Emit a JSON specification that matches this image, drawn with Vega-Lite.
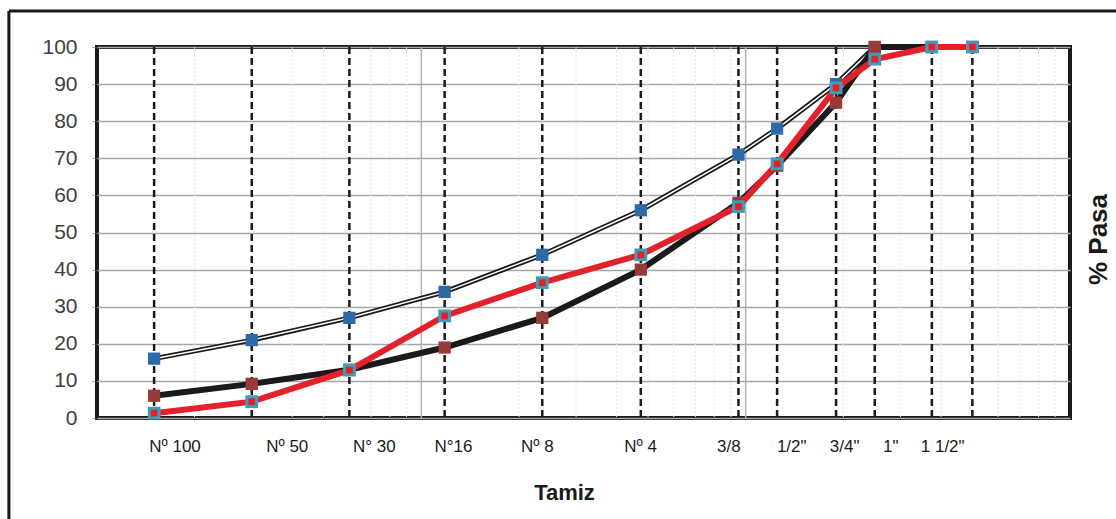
{
  "$schema": "https://vega.github.io/schema/vega-lite/v6.json",
  "width": 973,
  "height": 371,
  "autosize": {"type": "none"},
  "padding": {"left": 97, "top": 47, "right": 46, "bottom": 101},
  "background": "white",
  "config": {
    "view": {"stroke": "#1a1a1a", "strokeWidth": 4},
    "font": "Liberation Sans",
    "axisY": {
      "grid": true, "gridColor": "#a6a6a6", "gridWidth": 1.5,
      "domain": false, "tickSize": 6, "tickColor": "#666666", "tickDash": [1, 1],
      "labelFontSize": 21, "labelColor": "#404040", "labelPadding": 14,
      "titleFontSize": 26, "titleFontWeight": "bold", "titleColor": "#1a1a1a",
      "titleAngle": -90, "titleX": 1001, "titleY": 192, "titleAlign": "center", "titleBaseline": "middle"
    }
  },
  "datasets": {
    "sieves": [
      {"mm": 0.15, "upper": 16, "lower": 6, "sample": 1.3},
      {"mm": 0.3, "upper": 21, "lower": 9.2, "sample": 4.4},
      {"mm": 0.6, "upper": 27, "lower": 13, "sample": 12.9},
      {"mm": 1.18, "upper": 34, "lower": 19, "sample": 27.5},
      {"mm": 2.36, "upper": 44, "lower": 27, "sample": 36.5},
      {"mm": 4.75, "upper": 56, "lower": 40, "sample": 44},
      {"mm": 9.5, "upper": 71, "lower": 58, "sample": 57},
      {"mm": 12.5, "upper": 78, "lower": 68, "sample": 68.5},
      {"mm": 19, "upper": 90, "lower": 85, "sample": 89},
      {"mm": 25, "upper": 100, "lower": 100, "sample": 96.7},
      {"mm": 37.5, "upper": 100, "lower": 100, "sample": 100},
      {"mm": 50, "upper": 100, "lower": 100, "sample": 100}
    ],
    "minor": [
      {"g": 0.2}, {"g": 0.3}, {"g": 0.4}, {"g": 0.5}, {"g": 0.6}, {"g": 0.7}, {"g": 0.8}, {"g": 0.9},
      {"g": 2}, {"g": 3}, {"g": 4}, {"g": 5}, {"g": 6}, {"g": 7}, {"g": 8}, {"g": 9},
      {"g": 20}, {"g": 30}, {"g": 40}, {"g": 50}, {"g": 60}, {"g": 70}, {"g": 80}, {"g": 90}
    ],
    "major": [{"g": 1}, {"g": 10}],
    "labels": [
      {"pos": 0.174, "t": "Nº 100"},
      {"pos": 0.386, "t": "Nº 50"},
      {"pos": 0.716, "t": "N° 30"},
      {"pos": 1.256, "t": "N°16"},
      {"pos": 2.28, "t": "Nº 8"},
      {"pos": 4.74, "t": "Nº 4"},
      {"pos": 8.87, "t": "3/8"},
      {"pos": 13.87, "t": "1/2\""},
      {"pos": 20.2, "t": "3/4\""},
      {"pos": 28.0, "t": "1\""},
      {"pos": 40.5, "t": "1 1/2\""}
    ]
  },
  "layer": [
    {
      "data": {"name": "minor"},
      "mark": {"type": "rule", "color": "#e1e8f3", "strokeWidth": 1, "strokeDash": [2, 2]},
      "encoding": {
        "x": {"field": "g", "type": "quantitative",
          "scale": {"type": "log", "domain": [0.1, 100], "nice": false},
          "axis": {"labels": false, "ticks": false, "domain": false, "grid": false,
            "title": "Tamiz", "titleFontSize": 22, "titleFontWeight": "bold", "titleColor": "#1a1a1a",
            "titleX": 467, "titleY": 74, "titleBaseline": "middle", "titleAnchor": "middle"}
        }
      }
    },
    {
      "data": {"name": "major"},
      "mark": {"type": "rule", "color": "#b0b0b0", "strokeWidth": 1.5},
      "encoding": {"x": {"field": "g", "type": "quantitative"}}
    },
    {
      "data": {"name": "sieves"},
      "mark": {"type": "rule", "color": "#1a1a1a", "strokeWidth": 2.5, "strokeDash": [7, 4]},
      "encoding": {"x": {"field": "mm", "type": "quantitative"}}
    },
    {
      "data": {"name": "sieves"},
      "mark": {"type": "line", "color": "#1a1a1a", "strokeWidth": 5},
      "encoding": {
        "x": {"field": "mm", "type": "quantitative"},
        "y": {"field": "upper", "type": "quantitative",
          "scale": {"domain": [0, 100], "nice": false},
          "axis": {"values": [0, 10, 20, 30, 40, 50, 60, 70, 80, 90, 100], "title": "% Pasa"}
        }
      }
    },
    {
      "data": {"name": "sieves"},
      "mark": {"type": "line", "color": "white", "strokeWidth": 1.5},
      "encoding": {
        "x": {"field": "mm", "type": "quantitative"},
        "y": {"field": "upper", "type": "quantitative", "axis": {"values": [0, 10, 20, 30, 40, 50, 60, 70, 80, 90, 100], "title": "% Pasa"}}
      }
    },
    {
      "data": {"name": "sieves"},
      "mark": {"type": "line", "color": "#1a1a1a", "strokeWidth": 6},
      "encoding": {
        "x": {"field": "mm", "type": "quantitative"},
        "y": {"field": "lower", "type": "quantitative", "axis": {"values": [0, 10, 20, 30, 40, 50, 60, 70, 80, 90, 100], "title": "% Pasa"}}
      }
    },
    {
      "data": {"name": "sieves"},
      "mark": {"type": "square", "color": "#2e69a8", "opacity": 1, "size": 150, "filled": true},
      "encoding": {
        "x": {"field": "mm", "type": "quantitative"},
        "y": {"field": "upper", "type": "quantitative", "axis": {"values": [0, 10, 20, 30, 40, 50, 60, 70, 80, 90, 100], "title": "% Pasa"}}
      }
    },
    {
      "data": {"name": "sieves"},
      "mark": {"type": "square", "color": "#983a38", "opacity": 1, "size": 150, "filled": true},
      "encoding": {
        "x": {"field": "mm", "type": "quantitative"},
        "y": {"field": "lower", "type": "quantitative", "axis": {"values": [0, 10, 20, 30, 40, 50, 60, 70, 80, 90, 100], "title": "% Pasa"}}
      }
    },
    {
      "data": {"name": "sieves"},
      "mark": {"type": "line", "color": "#e3212b", "strokeWidth": 6},
      "encoding": {
        "x": {"field": "mm", "type": "quantitative"},
        "y": {"field": "sample", "type": "quantitative", "axis": {"values": [0, 10, 20, 30, 40, 50, 60, 70, 80, 90, 100], "title": "% Pasa"}}
      }
    },
    {
      "data": {"name": "sieves"},
      "mark": {"type": "square", "fill": "#e3212b", "stroke": "#3e9db8", "strokeWidth": 3, "opacity": 1, "size": 95, "filled": true},
      "encoding": {
        "x": {"field": "mm", "type": "quantitative"},
        "y": {"field": "sample", "type": "quantitative", "axis": {"values": [0, 10, 20, 30, 40, 50, 60, 70, 80, 90, 100], "title": "% Pasa"}}
      }
    },
    {
      "data": {"name": "labels"},
      "mark": {"type": "text", "fontSize": 17, "color": "#1a1a1a", "baseline": "middle", "align": "center"},
      "encoding": {
        "x": {"field": "pos", "type": "quantitative"},
        "y": {"datum": -7.8, "type": "quantitative", "axis": {"values": [0, 10, 20, 30, 40, 50, 60, 70, 80, 90, 100], "title": "% Pasa"}},
        "text": {"field": "t"}
      }
    },
    {
      "data": {"values": [{}]},
      "mark": {"type": "rule", "color": "#1a1a1a", "strokeWidth": 3},
      "encoding": {
        "x": {"datum": 0.0535, "type": "quantitative"},
        "x2": {"datum": 300},
        "y": {"datum": 109.7, "type": "quantitative", "axis": {"values": [0, 10, 20, 30, 40, 50, 60, 70, 80, 90, 100], "title": "% Pasa"}}
      }
    },
    {
      "data": {"values": [{}]},
      "mark": {"type": "rule", "color": "#1a1a1a", "strokeWidth": 3},
      "encoding": {
        "x": {"datum": 0.0535, "type": "quantitative"},
        "y": {"datum": 109.7, "type": "quantitative", "axis": {"values": [0, 10, 20, 30, 40, 50, 60, 70, 80, 90, 100], "title": "% Pasa"}},
        "y2": {"datum": -40}
      }
    }
  ]
}
